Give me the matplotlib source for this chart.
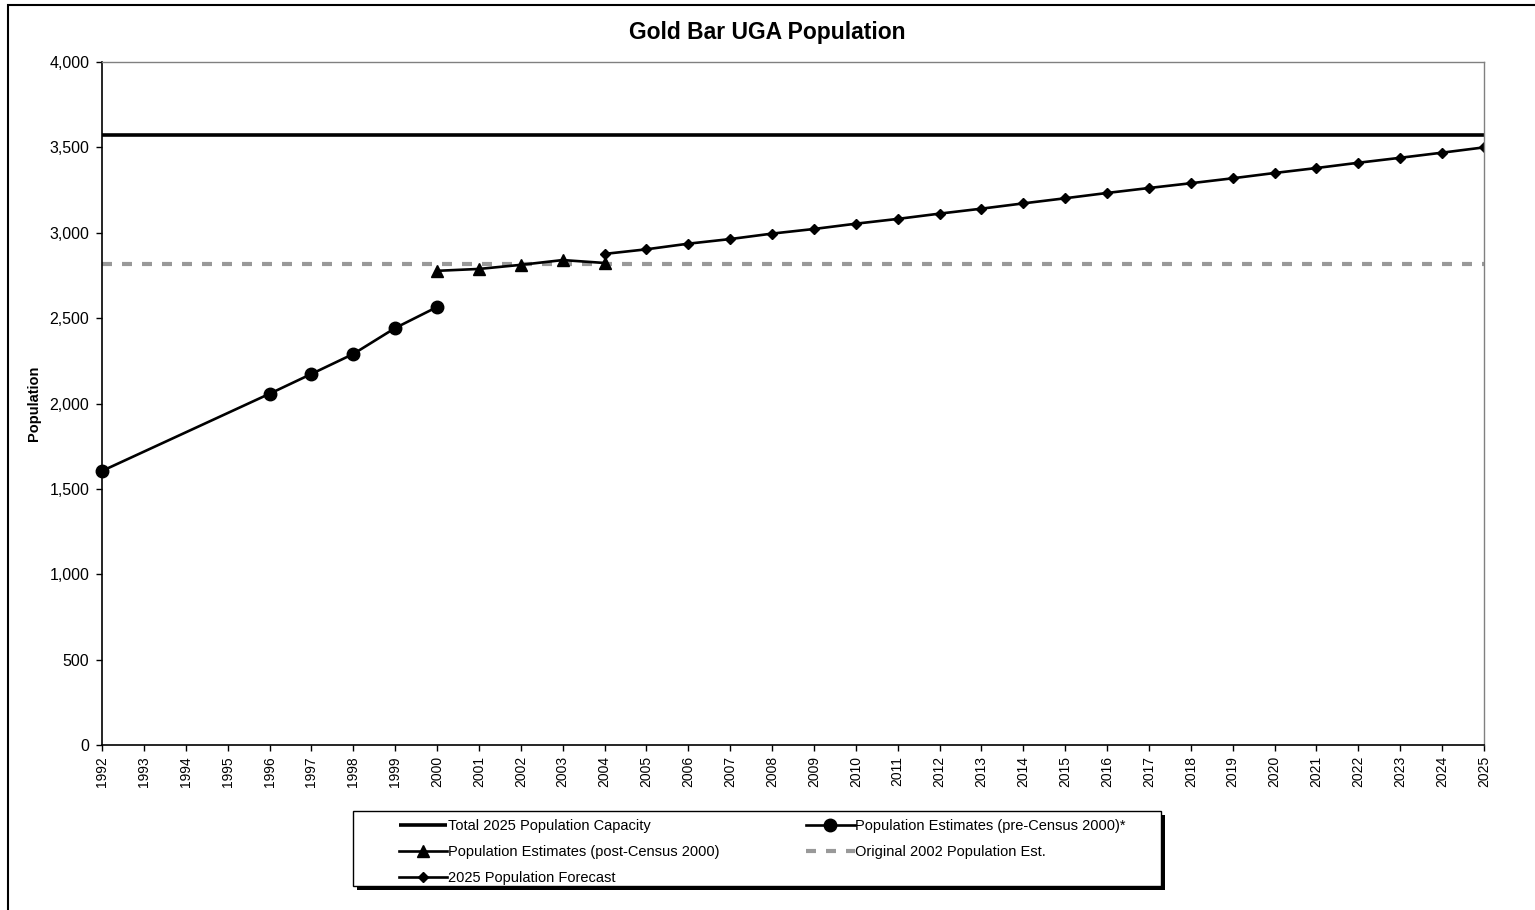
import matplotlib
matplotlib.use("Agg")
import matplotlib.pyplot as plt
from matplotlib import font_manager
from matplotlib.patches import Rectangle
from matplotlib.ticker import FuncFormatter

plt.rcParams['font.family'] = ['Liberation Sans', 'DejaVu Sans']

# ---- data ----
years_all = list(range(1992, 2026))

capacity_2025 = 3570
original_2002_est = 2818

pre_census_years = [1992, 1996, 1997, 1998, 1999, 2000]
pre_census_pop = [1605, 2057, 2173, 2290, 2442, 2565]

post_census_years = [2000, 2001, 2002, 2003, 2004]
post_census_pop = [2777, 2788, 2812, 2840, 2823]

forecast_years = list(range(2004, 2026))
forecast_pop = [2876, 2903, 2936, 2963, 2995, 3022, 3053, 3081, 3112, 3141,
                3172, 3202, 3233, 3262, 3290, 3319, 3350, 3379, 3410, 3439,
                3469, 3500]

y_ticks = [0, 500, 1000, 1500, 2000, 2500, 3000, 3500, 4000]

# ---- figure ----
W, H = 1535, 910
fig = plt.figure(figsize=(W / 100, H / 100), dpi=100)
ax = fig.add_axes([102 / W, 1 - 745 / H, (1484 - 102) / W, (745 - 62) / H])

cap_line, = ax.plot([years_all[0], years_all[-1]], [capacity_2025, capacity_2025],
                    color='black', lw=2.6, solid_capstyle='butt',
                    label='Total 2025 Population Capacity')
orig_line, = ax.plot([years_all[0], years_all[-1]], [original_2002_est, original_2002_est],
                     color='#999999', lw=3, dashes=(2.4, 2.4),
                     label='Original 2002 Population Est.')
fc_line, = ax.plot(forecast_years, forecast_pop, color='black', lw=1.9,
                   marker='D', markersize=5.5,
                   label='2025 Population Forecast')
post_line, = ax.plot(post_census_years, post_census_pop, color='black', lw=1.9,
                     marker='^', markersize=9,
                     label='Population Estimates (post-Census 2000)')
pre_line, = ax.plot(pre_census_years, pre_census_pop, color='black', lw=1.9,
                    marker='o', markersize=9, clip_on=False,
                    label='Population Estimates (pre-Census 2000)*')

ax.set_xlim(years_all[0], years_all[-1])
ax.set_ylim(0, 4000)
ax.set_yticks(y_ticks)
ax.yaxis.set_major_formatter(FuncFormatter(lambda v, p: f"{int(v):,}"))
ax.set_xticks(years_all)

names = {f.name for f in font_manager.fontManager.ttflist}
if 'Liberation Sans Narrow' in names:
    xfont, xsize = 'Liberation Sans Narrow', 12.5
else:
    xfont, xsize = 'Liberation Sans', 10
ax.set_xticklabels([str(y) for y in years_all], rotation=90,
                   fontfamily=xfont, fontsize=xsize)
for lab in ax.get_yticklabels():
    lab.set_fontsize(11.5)

ax.tick_params(axis='both', direction='out', length=4, width=1, color='black')
ax.tick_params(axis='y', pad=5)
ax.tick_params(axis='x', pad=4)

for side in ('left', 'bottom'):
    ax.spines[side].set_color('black')
    ax.spines[side].set_linewidth(1.2)
for side in ('top', 'right'):
    ax.spines[side].set_color('#808080')
    ax.spines[side].set_linewidth(1.0)

ax.set_ylabel('Population', fontsize=10.5, fontweight='bold', labelpad=6)

fig.text(0.5, 1 - 33 / H, 'Gold Bar UGA Population',
         ha='center', va='center', fontsize=16.5, fontweight='bold')

# outer chart border
fig.patches.append(Rectangle((8 / W, -0.05), 1.2, 1.05 - 5 / H,
                             transform=fig.transFigure, fill=False,
                             edgecolor='black', lw=1.5, clip_on=False))

# legend frame with offset shadow
lx0, lx1, ly0, ly1 = 353, 1161, 811, 886
fig.patches.append(Rectangle(((lx0 + 4) / W, 1 - (ly1 + 4) / H),
                             (lx1 - lx0) / W, (ly1 - ly0) / H,
                             transform=fig.transFigure, facecolor='black',
                             edgecolor='black', lw=0, zorder=1))
fig.patches.append(Rectangle((lx0 / W, 1 - ly1 / H),
                             (lx1 - lx0) / W, (ly1 - ly0) / H,
                             transform=fig.transFigure, facecolor='white',
                             edgecolor='black', lw=1.0, zorder=2))

leg = fig.legend(handles=[cap_line, post_line, fc_line, pre_line, orig_line],
                 ncol=2, loc='upper left',
                 bbox_to_anchor=(392 / W, 1 - 812 / H),
                 bbox_transform=fig.transFigure,
                 frameon=False, borderpad=0, fontsize=10.5,
                 handlelength=3.3, handletextpad=0.05,
                 columnspacing=5.95, labelspacing=0.8)
leg.set_zorder(3)

fig.savefig('out.png', dpi=100)
